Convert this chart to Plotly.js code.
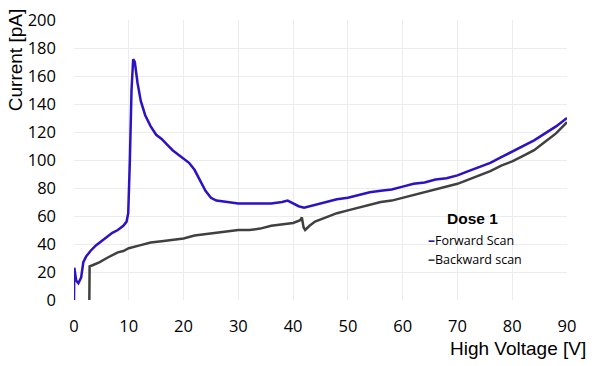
<!DOCTYPE html>
<html>
<head>
<meta charset="utf-8">
<script src="https://cdn.plot.ly/plotly-3.0.1.min.js"></script>
<style>
  html, body { margin: 0; padding: 0; background: #fff; }
  #chart { width: 598px; height: 366px; }
</style>
</head>
<body>
<div id="chart"></div>
<script>
// values
const fwdVolt = [0, 0.05, 0.4, 0.8, 1.3, 1.7, 2.2, 3, 4, 5, 6, 7, 8, 9, 9.6, 9.9, 10.2, 10.5, 10.8, 11.1, 11.6, 12.2, 13, 14, 15, 16, 17, 18, 19, 20, 21, 22, 23, 24, 25, 26, 28, 30, 32, 34, 36, 38, 39, 40, 41, 42, 43, 44, 46, 48, 50, 52, 54, 56, 58, 60, 62, 64, 66, 68, 70, 72, 74, 76, 78, 80, 82, 84, 86, 88, 90];
const fwdCurrent = [0, 23, 14, 12, 16, 27, 31, 35, 39, 42, 45, 48, 50, 53, 56, 62, 100, 150, 172, 170, 155, 142, 132, 124, 118, 115, 111, 107, 104, 101, 98, 93, 86, 78, 73, 71, 70, 69, 69, 69, 69, 70, 71, 69, 67, 66, 67, 68, 70, 72, 73, 75, 77, 78, 79, 81, 83, 84, 86, 87, 89, 92, 95, 98, 102, 106, 110, 114, 119, 124, 130];

const bwdVolt = [2.8, 2.85, 3.5, 4.7, 6, 7, 8, 9, 10, 12, 14, 16, 18, 20, 22, 24, 26, 28, 30, 32, 34, 36, 38, 40, 41.3, 41.6, 41.9, 42.2, 43, 44, 46, 48, 50, 52, 54, 56, 58, 60, 62, 64, 66, 68, 70, 72, 74, 76, 78, 80, 82, 84, 86, 88, 90];
const bwdCurrent = [0, 24, 25, 27, 30, 32, 34, 35, 37, 39, 41, 42, 43, 44, 46, 47, 48, 49, 50, 50, 51, 53, 54, 55, 57, 59, 52, 50, 53, 56, 59, 62, 64, 66, 68, 70, 71, 73, 75, 77, 79, 81, 83, 86, 89, 92, 96, 99, 103, 107, 113, 119, 127];

const xTicks = [0, 10, 20, 30, 40, 50, 60, 70, 80, 90];
const yTicks = [0, 20, 40, 60, 80, 100, 120, 140, 160, 180, 200];

const blue = '#2b12c4';
const grey = '#404040';

const traces = [
    {x: bwdVolt, y: bwdCurrent, mode: 'lines', name: 'Backward scan',
     line: {color: grey, width: 2.5}},
    {x: fwdVolt, y: fwdCurrent, mode: 'lines', name: 'Forward Scan',
     line: {color: blue, width: 2.5}},
];

const layout = {
    width: 598,
    height: 366,
    margin: {l: 74, r: 31, t: 20, b: 66},
    showlegend: false,
    plot_bgcolor: '#ffffff',
    paper_bgcolor: '#ffffff',
    font: {family: 'Open Sans', size: 16, color: '#000'},
    xaxis: {
        range: [0, 90],
        tickvals: xTicks,
        ticks: '',
        ticklabelstandoff: 14,
        showgrid: true,
        gridcolor: '#ececec',
        zeroline: false,
        showline: false,
        tickfont: {family: 'Open Sans', size: 16.5},
    },
    yaxis: {
        range: [0, 200],
        tickvals: yTicks,
        ticks: '',
        ticklabelstandoff: 17,
        showgrid: true,
        gridcolor: '#ececec',
        zeroline: false,
        showline: false,
        tickfont: {family: 'Open Sans', size: 16.5},
    },
    annotations: [
        {text: 'High Voltage [V]', xref: 'paper', yref: 'paper', x: 1.043, y: -0.13,
         xanchor: 'right', yanchor: 'top', showarrow: false,
         font: {family: 'Liberation Sans', size: 19}},
        {text: 'Current [pA]', xref: 'paper', yref: 'paper', x: -0.118, y: 1.045,
         xanchor: 'center', yanchor: 'top', textangle: -90, showarrow: false,
         font: {family: 'Liberation Sans', size: 19}},
        {text: '<b>Dose 1</b>', xref: 'paper', yref: 'paper', x: 0.808, y: 0.29,
         xanchor: 'center', yanchor: 'middle', showarrow: false,
         font: {family: 'Liberation Sans', size: 15.5}},
        {text: '<span style="color:' + blue + ';font-size:14px"><b>–</b></span>Forward Scan', xref: 'paper', yref: 'paper',
         x: 0.715, y: 0.215, xanchor: 'left', yanchor: 'middle', showarrow: false,
         font: {family: 'Open Sans', size: 12.5}},
        {text: '<span style="color:' + grey + ';font-size:14px"><b>–</b></span>Backward scan', xref: 'paper', yref: 'paper',
         x: 0.715, y: 0.15, xanchor: 'left', yanchor: 'middle', showarrow: false,
         font: {family: 'Open Sans', size: 12.5}},
    ],
};

Plotly.newPlot('chart', traces, layout, {displayModeBar: false, staticPlot: true});
</script>
</body>
</html>
